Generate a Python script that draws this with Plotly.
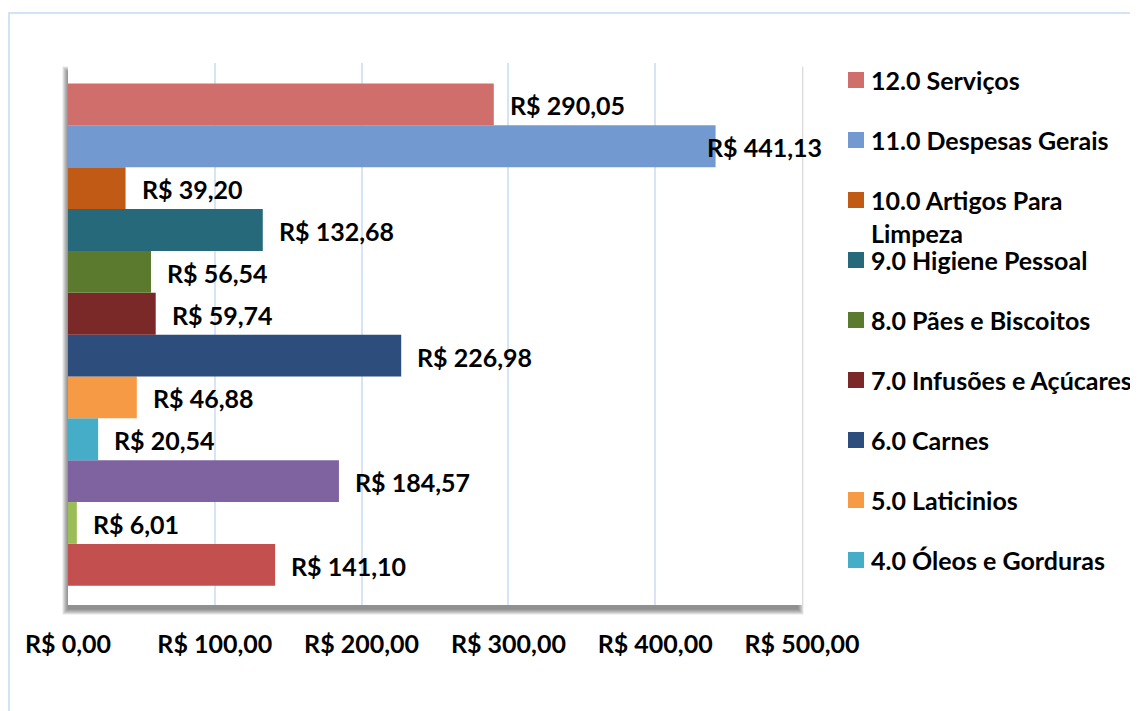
import plotly.graph_objects as go

# ---- data (bottom to top) ----
categories = ["1.0", "2.0", "3.0", "4.0 Óleos e Gorduras", "5.0 Laticinios",
              "6.0 Carnes", "7.0 Infusões e Açúcares", "8.0 Pães e Biscoitos",
              "9.0 Higiene Pessoal", "10.0 Artigos Para Limpeza",
              "11.0 Despesas Gerais", "12.0 Serviços"]
values = [141.10, 6.01, 184.57, 20.54, 46.88, 226.98, 59.74, 56.54,
          132.68, 39.20, 441.13, 290.05]
tick_values = [0, 100, 200, 300, 400, 500]
legend_items = ["12.0 Serviços", "11.0 Despesas Gerais", "10.0 Artigos Para<br>Limpeza",
                "9.0 Higiene Pessoal", "8.0 Pães e Biscoitos", "7.0 Infusões e Açúcares",
                "6.0 Carnes", "5.0 Laticinios", "4.0 Óleos e Gorduras"]

# ---- style ----
colors = ["#c3504e", "#9bbd58", "#7f62a0", "#45adc8", "#f79a45", "#2d4d7c",
          "#7a2828", "#5c7a2d", "#25697b", "#c05a14", "#729ad0", "#d06e6b"]
legend_colors = {name: c for name, c in zip(categories, colors)}
FONT = "Lato"
FS = 25
OFF = 8  # browser body margin
W, H = 1138, 711
PL, PT, PW, PH = 68, 63, 734, 542  # plot area in page pixels
L, T = PL - OFF, PT - OFF
R, B = W - L - PW, H - T - PH


def fmt(v):
    return "R$ " + f"{v:,.2f}".replace(",", "X").replace(".", ",").replace("X", ".")


def px_x(px):
    return (px - PL) / PW


def px_y(py):
    return (PT + PH - py) / PH


fig = go.Figure()
for i, (name, v, c) in enumerate(zip(categories, values, colors)):
    fig.add_trace(go.Bar(x=[v], y=[i], orientation="h", name=name, width=1.0,
                         marker=dict(color=c, line=dict(width=0)),
                         showlegend=False, hoverinfo="x+name"))

annotations = []
for i, v in enumerate(values):
    shift = -11 if v == max(values) else 14
    annotations.append(dict(x=v, y=i, xref="x", yref="y", text=fmt(v), showarrow=False,
                            xanchor="left", yanchor="middle", xshift=shift, yshift=-1,
                            font=dict(family=FONT, size=FS, color="#000000", weight=700)))

shapes = []
# outer chart border
shapes.append(dict(type="rect", xref="paper", yref="paper", x0=px_x(9), x1=px_x(1160),
                   y0=px_y(740), y1=px_y(13), line=dict(color="#d4e2f3", width=2),
                   fillcolor="rgba(0,0,0,0)", layer="below"))
# drop shadow for plot area
for k in range(6):
    e = k - 2.5
    shapes.append(dict(type="rect", xref="paper", yref="paper",
                       x0=px_x(PL - 3 - e), x1=px_x(PL + PW - 1 + e),
                       y0=px_y(PT + PH + 7 + e), y1=px_y(PT + 6 - e),
                       line=dict(width=0), fillcolor="rgba(60,60,60,0.13)", layer="below"))
shapes.append(dict(type="rect", xref="paper", yref="paper", x0=0, x1=1, y0=0, y1=1,
                   line=dict(width=0), fillcolor="#ffffff", layer="below"))

# manual legend
for k, name in enumerate(legend_items):
    cy = 80 + 60 * k
    key = name.replace("<br>", " ")
    shapes.append(dict(type="rect", xref="paper", yref="paper",
                       x0=px_x(848), x1=px_x(864), y0=px_y(cy + 8), y1=px_y(cy - 8),
                       line=dict(width=0), fillcolor=legend_colors[key]))
    annotations.append(dict(x=px_x(869), y=px_y(cy - 17), xref="paper", yref="paper",
                            text=name, showarrow=False, xanchor="left", yanchor="top",
                            align="left",
                            font=dict(family=FONT, size=FS, color="#000000", weight=700)))

fig.update_layout(
    width=W, height=H,
    margin=dict(l=L, r=R, t=T, b=B, autoexpand=False),
    paper_bgcolor="#ffffff", plot_bgcolor="rgba(0,0,0,0)",
    barmode="overlay", showlegend=False,
    xaxis=dict(range=[0, 500], tickvals=tick_values, ticktext=[fmt(t) for t in tick_values],
               showgrid=True, gridcolor="#d6e4f4", gridwidth=2, zeroline=False,
               showline=False, ticks="", ticklabelstandoff=22,
               tickfont=dict(family=FONT, size=FS, color="#000000", weight=700)),
    yaxis=dict(range=[-0.96, 11.99], showgrid=False, zeroline=False, showline=False,
               showticklabels=False, ticks=""),
    annotations=annotations, shapes=shapes,
)

fig.write_html("out.html")
